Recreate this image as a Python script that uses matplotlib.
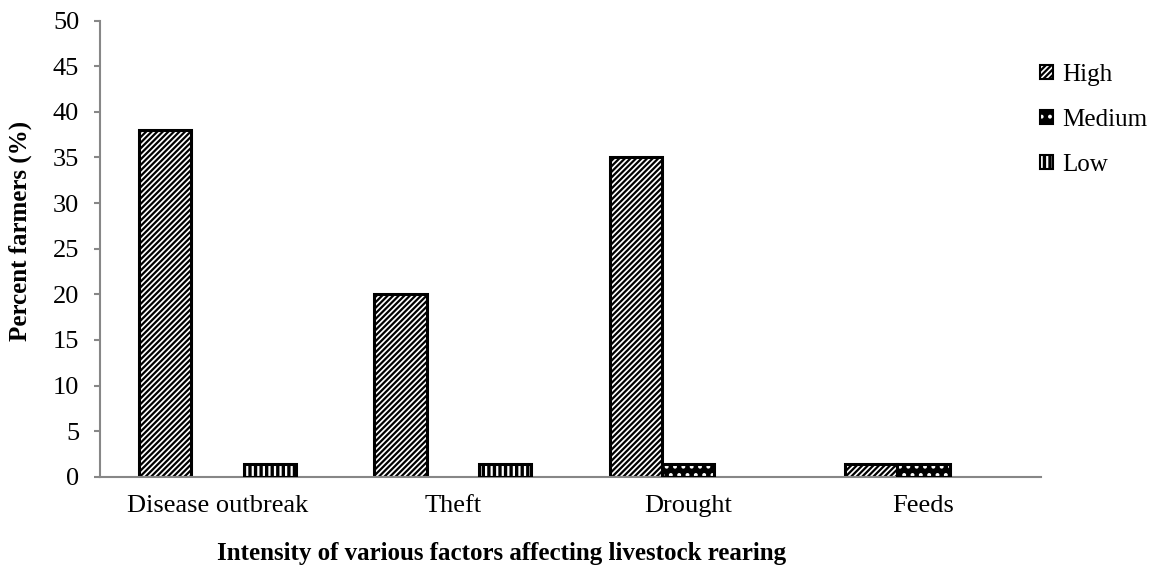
import numpy as np
import matplotlib
matplotlib.use("Agg")
import matplotlib.pyplot as plt
from matplotlib.patches import Patch

# Survey results: share of farmers rating each factor's intensity
categories = ["Disease outbreak", "Theft", "Drought", "Feeds"]
high = [38, 20, 35, 1.4]
medium = [0, 0, 1.4, 1.4]
low = [1.4, 1.4, 0, 0]
series_names = ["High", "Medium", "Low"]
y_ticks = list(range(0, 55, 5))

plt.rcParams["font.family"] = ["Liberation Serif", "DejaVu Serif"]
plt.rcParams["hatch.linewidth"] = 1.6

fig = plt.figure(figsize=(11.57, 5.70), dpi=100)
ax = fig.add_axes([100 / 1157, 1 - 476.7 / 570, 941 / 1157, 456 / 570])

x = np.arange(len(categories))
w = 0.2222
edge_lw = 2.2


def draw_series(values, offset, style):
    vals = np.asarray(values, dtype=float)
    keep = vals > 0
    xs = x[keep] + offset
    hs = vals[keep]
    if style == "high":
        ax.bar(xs, hs, width=w, facecolor="white", edgecolor="black",
               hatch="//////", linewidth=edge_lw, zorder=2)
    else:
        hatch = ".." if style == "medium" else "|||"
        ax.bar(xs, hs, width=w, facecolor="black", edgecolor="white",
               hatch=hatch, linewidth=0, zorder=2)
        ax.bar(xs, hs, width=w, fill=False, edgecolor="black",
               linewidth=edge_lw, zorder=3)


draw_series(high, -w, "high")
draw_series(medium, 0.0, "medium")
draw_series(low, w, "low")

ax.set_xlim(-0.5, len(categories) - 0.5)
ax.set_ylim(0, 50)
ax.set_yticks(y_ticks)
ax.set_xticks(x)
ax.set_xticklabels(categories)

grey = "#878787"
for side in ("top", "right"):
    ax.spines[side].set_visible(False)
for side in ("left", "bottom"):
    ax.spines[side].set_color(grey)
    ax.spines[side].set_linewidth(1.5)

ax.tick_params(axis="y", direction="out", length=4, width=1.5, color=grey,
               labelsize=19, pad=11)
ax.tick_params(axis="x", length=0, labelsize=19, pad=13)

ax.set_ylabel("Percent farmers (%)", fontsize=18, fontweight="bold")
ax.set_xlabel("Intensity of various factors affecting livestock rearing",
              fontsize=18, fontweight="bold")
ax.xaxis.set_label_coords(0.427, -0.143)
ax.yaxis.set_label_coords(-0.072, 0.54)

handles = [
    Patch(facecolor="white", edgecolor="black", hatch="//////", linewidth=1.5),
    (Patch(facecolor="black", edgecolor="white", hatch="..", linewidth=0),
     Patch(fill=False, edgecolor="black", linewidth=1.5)),
    (Patch(facecolor="black", edgecolor="white", hatch="|||", linewidth=0),
     Patch(fill=False, edgecolor="black", linewidth=1.5)),
]
fig.legend(handles, series_names, loc="upper left",
           bbox_to_anchor=(1040 / 1157, 1 - 64 / 570), frameon=False,
           fontsize=18, handlelength=0.5, handleheight=0.5,
           handletextpad=0.4, labelspacing=0.92, borderpad=0,
           borderaxespad=0)

fig.savefig("out.png", dpi=100)
